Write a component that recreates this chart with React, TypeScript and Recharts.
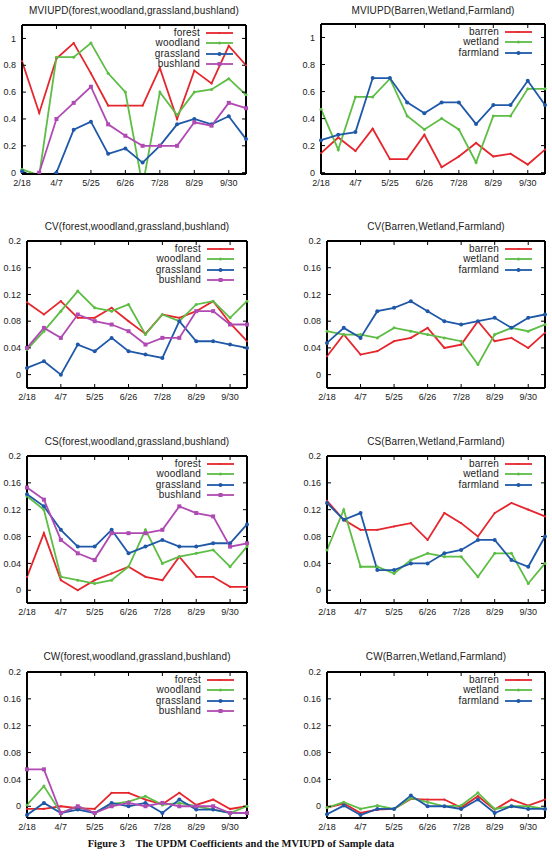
import React from 'react';
import { LineChart, Line, XAxis, YAxis, Legend } from 'recharts';

const dates = ['2/18', '3/13', '4/7', '5/1', '5/25', '6/10', '6/26', '7/12', '7/28', '8/13', '8/29', '9/14', '9/30', '10/16'];

const mviTicks = [0, 0.2, 0.4, 0.6, 0.8, 1];
const coefTicks = [0, 0.04, 0.08, 0.12, 0.16, 0.2];

// MVIUPD
const mviForest = [0.83, 0.445, 0.85, 0.965, 0.74, 0.5, 0.5, 0.5, 0.78, 0.4, 0.76, 0.665, 0.945, 0.8];
const mviWoodland = [0.025, -0.02, 0.86, 0.86, 0.965, 0.74, 0.6, -0.1, 0.6, 0.43, 0.6, 0.62, 0.7, 0.58];
const mviGrassland = [0.01, -0.05, 0, 0.32, 0.38, 0.14, 0.18, 0.075, 0.2, 0.36, 0.4, 0.36, 0.42, 0.25];
const mviBushland = [-0.05, 0, 0.4, 0.52, 0.64, 0.36, 0.275, 0.2, 0.2, 0.2, 0.375, 0.35, 0.52, 0.48];
const mviBarren = [0.145, 0.26, 0.16, 0.325, 0.1, 0.1, 0.28, 0.04, 0.12, 0.22, 0.12, 0.14, 0.06, 0.17];
const mviWetland = [0.47, 0.17, 0.56, 0.56, 0.695, 0.42, 0.32, 0.4, 0.32, 0.075, 0.42, 0.42, 0.62, 0.62];
const mviFarmland = [0.24, 0.28, 0.3, 0.7, 0.7, 0.52, 0.44, 0.52, 0.52, 0.36, 0.5, 0.5, 0.68, 0.5];

// CV
const cvForest = [0.108, 0.09, 0.11, 0.085, 0.085, 0.1, 0.08, 0.061, 0.09, 0.085, 0.095, 0.11, 0.077, 0.05];
const cvWoodland = [0.0375, 0.065, 0.095, 0.125, 0.1, 0.095, 0.105, 0.06, 0.09, 0.08, 0.105, 0.11, 0.085, 0.11];
const cvGrassland = [0.01, 0.02, 0, 0.045, 0.035, 0.055, 0.035, 0.03, 0.025, 0.08, 0.05, 0.05, 0.045, 0.04];
const cvBushland = [0.04, 0.07, 0.055, 0.09, 0.08, 0.075, 0.065, 0.045, 0.055, 0.055, 0.095, 0.095, 0.075, 0.075];
const cvBarren = [0.0275, 0.06, 0.03, 0.035, 0.05, 0.055, 0.07, 0.04, 0.045, 0.08, 0.05, 0.055, 0.04, 0.0625];
const cvWetland = [0.065, 0.06, 0.06, 0.055, 0.07, 0.065, 0.06, 0.055, 0.05, 0.015, 0.06, 0.07, 0.065, 0.075];
const cvFarmland = [0.0475, 0.07, 0.055, 0.095, 0.1, 0.11, 0.095, 0.08, 0.075, 0.08, 0.085, 0.07, 0.085, 0.09];

// CS
const csForest = [0.02, 0.085, 0.015, 0, 0.015, 0.025, 0.035, 0.02, 0.015, 0.05, 0.02, 0.02, 0.005, 0.005];
const csWoodland = [0.14, 0.12, 0.02, 0.015, 0.01, 0.015, 0.035, 0.09, 0.04, 0.05, 0.055, 0.06, 0.035, 0.065];
const csGrassland = [0.143, 0.125, 0.09, 0.065, 0.065, 0.09, 0.055, 0.065, 0.075, 0.065, 0.065, 0.07, 0.07, 0.098];
const csBushland = [0.153, 0.135, 0.075, 0.055, 0.045, 0.085, 0.085, 0.085, 0.09, 0.125, 0.115, 0.11, 0.065, 0.07];
const csBarren = [0.133, 0.105, 0.09, 0.09, 0.095, 0.1, 0.075, 0.115, 0.1, 0.08, 0.115, 0.13, 0.12, 0.11];
const csWetland = [0.06, 0.12, 0.035, 0.035, 0.025, 0.045, 0.055, 0.05, 0.05, 0.02, 0.055, 0.055, 0.01, 0.04];
const csFarmland = [0.13, 0.105, 0.115, 0.03, 0.03, 0.04, 0.04, 0.055, 0.06, 0.075, 0.075, 0.045, 0.035, 0.08];

// CW
const cwForest = [-0.004, -0.004, 0, -0.003, -0.004, 0.02, 0.02, 0.01, 0.003, 0.02, 0.002, 0.01, -0.004, 0];
const cwWoodland = [0.002, 0.03, -0.01, 0, -0.01, 0.003, 0.007, 0.015, 0.002, 0.005, 0, -0.005, -0.01, 0];
const cwGrassland = [-0.013, 0.005, -0.01, -0.005, -0.01, 0.005, 0, 0.005, -0.01, 0.01, -0.005, -0.005, -0.01, -0.01];
const cwBushland = [0.055, 0.055, -0.01, 0, -0.01, 0, 0.005, 0, 0.005, 0, 0, 0, -0.01, -0.01];
const cwBarren = [-0.002, 0.004, -0.01, -0.005, -0.004, 0.011, 0.01, 0.01, -0.002, 0.015, -0.005, 0.01, 0.001, 0.01];
const cwWetland = [-0.002, 0.006, -0.004, 0.001, -0.004, 0.012, 0.006, 0, 0.001, 0.02, -0.004, 0, 0, -0.004];
const cwFarmland = [-0.012, 0.001, -0.013, -0.004, -0.004, 0.016, 0, 0, -0.004, 0.01, -0.01, 0, -0.004, -0.004];

const FONT = '"Liberation Sans", Arial, Helvetica, sans-serif';
const RED = '#e5262d';
const GREEN = '#5dbd45';
const BLUE = '#1f58a8';
const PURPLE = '#b04ab3';

type Shape = 'plus' | 'circle' | 'dot' | 'square';
type Series = { key: string; name: string; color: string; shape: Shape; values: number[] };

const forestGroup = (a: number[], b: number[], c: number[], d: number[]): Series[] => [
  { key: 'forest', name: 'forest', color: RED, shape: 'plus', values: a },
  { key: 'woodland', name: 'woodland', color: GREEN, shape: 'circle', values: b },
  { key: 'grassland', name: 'grassland', color: BLUE, shape: 'dot', values: c },
  { key: 'bushland', name: 'bushland', color: PURPLE, shape: 'square', values: d },
];
const barrenGroup = (a: number[], b: number[], c: number[]): Series[] => [
  { key: 'barren', name: 'barren', color: RED, shape: 'plus', values: a },
  { key: 'wetland', name: 'wetland', color: GREEN, shape: 'circle', values: b },
  { key: 'farmland', name: 'farmland', color: BLUE, shape: 'dot', values: c },
];

function drawMarker(shape: Shape, color: string, cx: number, cy: number, k?: string) {
  if (shape === 'square') return <rect key={k} x={cx - 2} y={cy - 2} width={4} height={4} fill={color} />;
  if (shape === 'dot') return <circle key={k} cx={cx} cy={cy} r={2} fill={color} />;
  if (shape === 'circle') return <circle key={k} cx={cx} cy={cy} r={1.5} fill={color} />;
  return <circle key={k} cx={cx} cy={cy} r={1.1} fill={color} />;
}

const makeDot = (shape: Shape, color: string) => (p: any) => {
  const k = `d-${p.index}`;
  if (p.cx == null || p.cy == null || isNaN(p.cx) || isNaN(p.cy)) return <g key={k} />;
  return drawMarker(shape, color, p.cx, p.cy, k);
};

function LegendBox({ series }: { series: Series[] }) {
  return (
    <div style={{ fontFamily: FONT, fontSize: 10, color: '#222' }}>
      {series.map((s) => (
        <div key={s.key} style={{ display: 'flex', justifyContent: 'flex-end', alignItems: 'center', height: 10.3 }}>
          <span style={{ lineHeight: '10px', letterSpacing: 0.2 }}>{s.name}</span>
          <svg width={27} height={8} style={{ marginLeft: 6, display: 'block' }}>
            <line x1={0} y1={4} x2={27} y2={4} stroke={s.color} strokeWidth={1.8} />
            {drawMarker(s.shape, s.color, 13.5, 4)}
          </svg>
        </div>
      ))}
    </div>
  );
}

type Rect = { x: number; y: number; w: number; h: number };

function Panel({ title, left, plot, titleY, domain, ticks, series }: {
  title: string; left: number; plot: Rect; titleY: number; domain: [number, number]; ticks: number[]; series: Series[];
}) {
  const yW = plot.x - left;
  const top = plot.y - 10;
  const width = yW + plot.w + 6;
  const height = 10 + plot.h + 22;
  const data = dates.map((d, i) => {
    const row: any = { date: d };
    series.forEach((s) => { row[s.key] = s.values[i]; });
    return row;
  });
  const axisLine = { stroke: '#000', strokeWidth: 2 };
  const tickLine = { stroke: '#000', strokeWidth: 1 };
  const empty = () => <g />;
  return (
    <>
      <div style={{ position: 'absolute', left: plot.x, width: plot.w, top: titleY - 7, height: 14, lineHeight: '14px', textAlign: 'center', fontFamily: FONT, fontSize: 10, color: '#222', letterSpacing: 0.1, whiteSpace: 'nowrap' }}>
        {title}
      </div>
      <div style={{ position: 'absolute', left, top }}>
        <LineChart width={width} height={height} data={data} margin={{ top: 9, right: 5, bottom: 0, left: 0 }}>
          <XAxis dataKey="date" xAxisId="b" orientation="bottom" height={22} interval={1} tickSize={-4} tickMargin={10}
            axisLine={axisLine} tickLine={tickLine} tick={{ fontSize: 9, fill: '#222', fontFamily: FONT }} />
          <XAxis dataKey="date" xAxisId="t" orientation="top" height={1} interval={1} tickSize={-4}
            axisLine={axisLine} tickLine={tickLine} tick={empty} />
          <YAxis yAxisId="l" orientation="left" width={yW} domain={domain} ticks={ticks} allowDataOverflow type="number"
            tickSize={-4} tickMargin={10} axisLine={axisLine} tickLine={tickLine} interval={0}
            tick={{ fontSize: 9, fill: '#222', fontFamily: FONT }} />
          <YAxis yAxisId="r" orientation="right" width={1} domain={domain} ticks={ticks} allowDataOverflow type="number"
            tickSize={-4} axisLine={axisLine} tickLine={tickLine} tick={empty} interval={0} />
          <Legend layout="horizontal" verticalAlign="middle" align="center"
            wrapperStyle={{ top: 13, right: 19, left: 'auto', width: 'auto' }}
            content={() => <LegendBox series={series} />} />
          {series.map((s) => (
            <Line key={s.key} xAxisId="b" yAxisId="l" type="linear" dataKey={s.key} name={s.name} stroke={s.color}
              strokeWidth={1.8} dot={makeDot(s.shape, s.color)} activeDot={false} isAnimationActive={false} />
          ))}
        </LineChart>
      </div>
    </>
  );
}

export default function App() {
  return (
    <div style={{ position: 'absolute', left: 0, top: 0, width: 552, height: 856, background: '#fff', overflow: 'hidden' }}>
      <Panel title="MVIUPD(forest,woodland,grassland,bushland)" left={0} plot={{ x: 22, y: 25, w: 224, h: 149 }} titleY={11}
        domain={[-0.01, 1.1]} ticks={mviTicks} series={forestGroup(mviForest, mviWoodland, mviGrassland, mviBushland)} />
      <Panel title="MVIUPD(Barren,Wetland,Farmland)" left={276} plot={{ x: 321, y: 24, w: 224, h: 150 }} titleY={11}
        domain={[-0.01, 1.1]} ticks={mviTicks} series={barrenGroup(mviBarren, mviWetland, mviFarmland)} />
      <Panel title="CV(forest,woodland,grassland,bushland)" left={0} plot={{ x: 27, y: 241, w: 220, h: 147 }} titleY={227}
        domain={[-0.02, 0.2]} ticks={coefTicks} series={forestGroup(cvForest, cvWoodland, cvGrassland, cvBushland)} />
      <Panel title="CV(Barren,Wetland,Farmland)" left={276} plot={{ x: 327, y: 241, w: 218, h: 147 }} titleY={227}
        domain={[-0.02, 0.2]} ticks={coefTicks} series={barrenGroup(cvBarren, cvWetland, cvFarmland)} />
      <Panel title="CS(forest,woodland,grassland,bushland)" left={0} plot={{ x: 27, y: 456, w: 220, h: 147 }} titleY={442}
        domain={[-0.019, 0.2]} ticks={coefTicks} series={forestGroup(csForest, csWoodland, csGrassland, csBushland)} />
      <Panel title="CS(Barren,Wetland,Farmland)" left={276} plot={{ x: 327, y: 456, w: 218, h: 147 }} titleY={442}
        domain={[-0.019, 0.2]} ticks={coefTicks} series={barrenGroup(csBarren, csWetland, csFarmland)} />
      <Panel title="CW(forest,woodland,grassland,bushland)" left={0} plot={{ x: 27, y: 672, w: 220, h: 146 }} titleY={657}
        domain={[-0.0175, 0.2]} ticks={coefTicks} series={forestGroup(cwForest, cwWoodland, cwGrassland, cwBushland)} />
      <Panel title="CW(Barren,Wetland,Farmland)" left={276} plot={{ x: 327, y: 672, w: 218, h: 146 }} titleY={657}
        domain={[-0.0175, 0.2]} ticks={coefTicks} series={barrenGroup(cwBarren, cwWetland, cwFarmland)} />
      <div style={{ position: 'absolute', left: 0, width: 482, top: 837, height: 14, lineHeight: '14px', textAlign: 'center',
        fontFamily: '"Liberation Serif", "Times New Roman", serif', fontWeight: 'bold', fontSize: 10.5, color: '#111', whiteSpace: 'pre' }}>
        {'Figure 3    The UPDM Coefficients and the MVIUPD of Sample data'}
      </div>
    </div>
  );
}
